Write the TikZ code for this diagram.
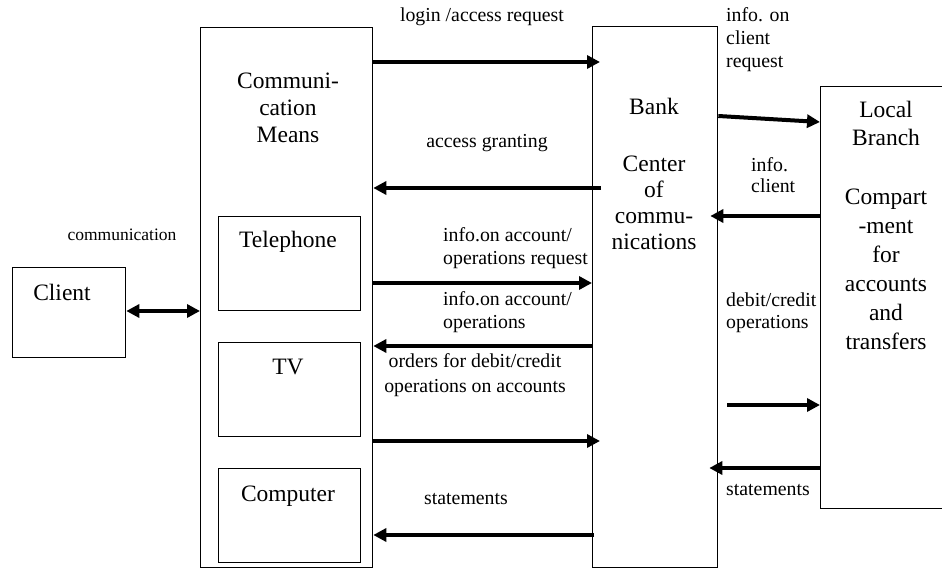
\documentclass[tikz,border=0pt]{standalone}
\usepackage{fontspec}
\setmainfont{Liberation Serif}
\usetikzlibrary{arrows.meta, positioning}

\tikzset{
  box/.style={draw, line width=1.3pt, anchor=north west, inner sep=0pt},
  boxtxt/.style={font=\fontsize{23.5}{27}\selectfont, align=center, anchor=base, inner sep=0pt},
  lbl/.style={font=\fontsize{19.8}{23}\selectfont, anchor=base, inner sep=0pt},
  flow/.style={line width=4pt, -{Triangle[length=13pt,width=13pt]}},
}

\begin{document}
\begin{tikzpicture}[x=1pt,y=-1pt]
\clip (0,0) rectangle (942,569);

% boxes
\node[box, minimum width=113pt, minimum height=90pt] (client) at (12,267) {};
\node[box, minimum width=172pt, minimum height=540pt] (comm) at (200,27) {};
\node[box, minimum width=142pt, minimum height=94pt] (tel) at (218,216) {};
\node[box, minimum width=142pt, minimum height=94pt] (tv) at (218,342) {};
\node[box, minimum width=142pt, minimum height=94pt] (comp) at (218,468) {};
\node[box, minimum width=125pt, minimum height=541pt] (bank) at (592,26) {};
\node[box, minimum width=126pt, minimum height=422pt] (local) at (820,86) {};

% texts in the boxes (base = last line)
\node[boxtxt] (clienttxt) at (62,300) {Client};
\node[boxtxt] (commtxt) at (288,143) {Communi-\\cation\\Means};
\node[boxtxt] (teltxt) at (288,248) {Telephone};
\node[boxtxt] (tvtxt) at (288,374) {TV};
\node[boxtxt] (comptxt) at (288,501) {Computer};
\node[boxtxt] (banktxt) at (654,115) {Bank};
\node[boxtxt, font=\fontsize{23.5}{26}\selectfont] (centertxt) at (654,250) {Center\\of\\commu-\\nications};
\node[boxtxt, font=\fontsize{23.5}{28}\selectfont] (localtxt) at (886,146) {Local\\Branch};
\node[boxtxt, font=\fontsize{23.5}{29}\selectfont] (comparttxt) at (886,349) {Compart\\-ment\\for\\accounts\\and\\transfers};

% client <-> communication means
\draw[line width=4pt, {Triangle[length=13pt,width=13pt]}-{Triangle[length=13pt,width=13pt]}] (client.east |- 0,311) -- (comm.west |- 0,311);
\node[lbl, font=\fontsize{17.5}{21}\selectfont] (lblcomm) at (122,241) {communication};

% communication means <-> bank
\draw[flow, shorten >=-8pt] (comm.east |- 0,62) -- (bank.west |- 0,62);
\draw[flow, shorten <=-9pt] (bank.west |- 0,188) -- (comm.east |- 0,188);
\draw[flow] (comm.east |- 0,283) -- (bank.west |- 0,283);
\draw[flow] (bank.west |- 0,346) -- (comm.east |- 0,346);
\draw[flow, shorten >=-8pt] (comm.east |- 0,441) -- (bank.west |- 0,441);
\draw[flow, shorten <=-2pt] (bank.west |- 0,535) -- (comm.east |- 0,535);

\node[lbl] (lbllogin) at (482,22) {login /access request};
\node[lbl] (lblgrant) at (487,148) {access granting};
\node[lbl, align=left, anchor=base west] (lblreq) at (443,265) {info.on account/\\operations request};
\node[lbl, align=left, anchor=base west] (lblinfo) at (443,328) {info.on account/\\operations};
\node[lbl, align=center, font=\fontsize{19.8}{25}\selectfont] (lblorders) at (475,392) {orders for debit/credit\\operations on accounts};
\node[lbl] (lblstat) at (466,504) {statements};

% bank <-> local branch
\coordinate (debitstart) at (727,405);
\draw[flow] (bank.east |- 0,116) -- (local.west |- 0,122);
\draw[flow, shorten >=-8pt] (local.west |- 0,216) -- (bank.east |- 0,216);
\draw[flow] (debitstart) -- (local.west |- debitstart);
\draw[flow, shorten >=-9pt] (local.west |- 0,468) -- (bank.east |- 0,468);

\node[lbl, align=left, anchor=base west] (lblclreq) at (726,68) {info. on\\client\\request};
\node[lbl, align=left, anchor=base west, font=\fontsize{19.8}{21}\selectfont] (lblclient) at (751,193) {info.\\client};
\node[lbl, align=left, anchor=base west, font=\fontsize{19.8}{22}\selectfont] (lbldebit) at (726,328) {debit/credit\\operations};
\node[lbl, anchor=base west] (lblstat2) at (726,495) {statements};
\end{tikzpicture}
\end{document}
